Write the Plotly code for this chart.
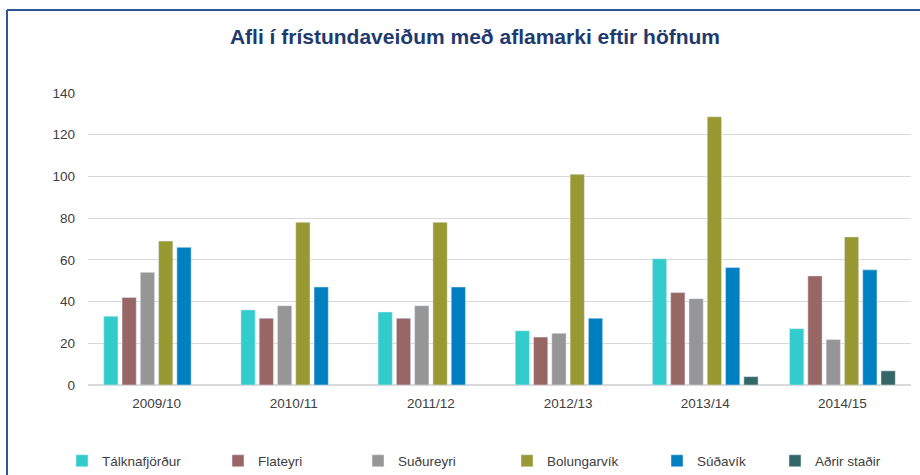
import plotly.graph_objects as go

seasons = ["2009/10", "2010/11", "2011/12", "2012/13", "2013/14", "2014/15"]
talknafjordur = [33, 36, 35, 26, 60.5, 27]
flateyri = [42, 32, 32, 23, 44.3, 52.3]
sudureyri = [54, 38, 38, 24.8, 41.4, 21.8]
bolungarvik = [69, 78, 78, 101, 128.6, 71]
sudavik = [66, 47, 47, 32, 56.3, 55.2]
adrir = [None, None, None, None, 4, 6.8]

names = ["Tálknafjörður", "Flateyri", "Suðureyri", "Bolungarvík", "Súðavík", "Aðrir staðir"]
series = [talknafjordur, flateyri, sudureyri, bolungarvik, sudavik, adrir]
colors = ["#33CCCC", "#996666", "#969696", "#999933", "#0080C0", "#336666"]
swatch_x = [80, 236, 376, 525, 675, 793]

W, H = 920, 475
ml, mr, mt, mb = 88, 9, 93, 90

fig = go.Figure()
for i, (n, v, c) in enumerate(zip(names, series, colors)):
    lg = "legend" if i == 0 else f"legend{i+1}"
    fig.add_trace(go.Bar(x=seasons, y=v, name=n, marker_color=c, legend=lg,
                         hovertemplate="%{x}: %{y}<extra>" + n + "</extra>"))

legend_common = dict(orientation="h", xref="container", yref="container",
                     xanchor="left", yanchor="middle", y=1 - 461 / H,
                     bgcolor="rgba(0,0,0,0)",
                     font=dict(family="Liberation Sans, Arial, sans-serif", size=13.5, color="#404040"))
layout_legends = {}
for i, sx in enumerate(swatch_x):
    key = "legend" if i == 0 else f"legend{i+1}"
    layout_legends[key] = dict(legend_common, x=(sx - 18) / W)

pw = W - ml - mr
ph = H - mt - mb

def px2paper_x(px):
    return (px - ml) / pw

def px2paper_y(py):
    return (H - mb - py) / ph

fig.update_layout(
    width=W, height=H,
    margin=dict(l=ml, r=mr, t=mt, b=mb),
    paper_bgcolor="white", plot_bgcolor="white",
    barmode="group", bargap=0.2, bargroupgap=0.22,
    title=dict(text="<b>Afli í frístundaveiðum með aflamarki eftir höfnum</b>",
               x=475 / W, xanchor="center", y=1 - 37 / H, yanchor="middle",
               font=dict(family="Liberation Sans Narrow, Liberation Sans, Arial, sans-serif",
                         size=21, color="#1F3A6E")),
    xaxis=dict(showgrid=False, showline=False, ticks="", ticklabelstandoff=8,
               tickfont=dict(family="Liberation Sans, Arial, sans-serif", size=13.5, color="#404040")),
    yaxis=dict(range=[0, 140], dtick=20, showgrid=True, gridcolor="#D9D9D9", gridwidth=1.2,
               zeroline=True, zerolinecolor="#D9D9D9", zerolinewidth=1.5,
               showline=False, ticks="", ticklabelstandoff=12,
               tickfont=dict(family="Liberation Sans, Arial, sans-serif", size=13.5, color="#404040")),
    showlegend=True,
    shapes=[
        dict(type="line", xref="paper", yref="paper",
             x0=px2paper_x(7), x1=px2paper_x(925), y0=px2paper_y(10), y1=px2paper_y(10),
             line=dict(color="#2F5597", width=2)),
        dict(type="line", xref="paper", yref="paper",
             x0=px2paper_x(7), x1=px2paper_x(7), y0=px2paper_y(10), y1=px2paper_y(480),
             line=dict(color="#2F5597", width=2)),
    ],
    **layout_legends,
)

fig.write_html("out.html", config={"displayModeBar": False},
               post_script="document.body.style.margin='0';document.body.style.padding='0';")
